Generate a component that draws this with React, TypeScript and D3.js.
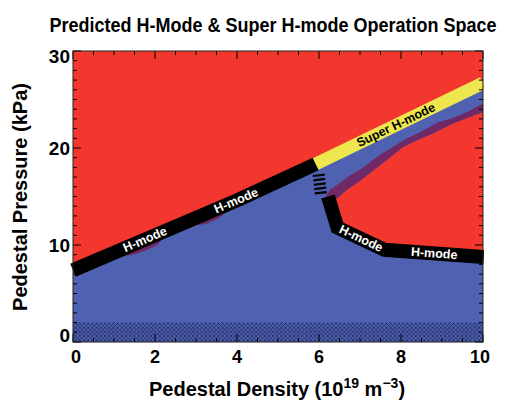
import React from 'react';
import * as d3 from 'd3';

type P = [number, number];

const W = 507;
const H = 400;
const xDomain: P = [0, 10];
const yDomain: P = [0, 30];
const xTicks = [0, 2, 4, 6, 8, 10];
const yTicks = [0, 10, 20, 30];
const xMinorStep = 0.5;
const yMinorStep = 1;

const title = 'Predicted H-Mode & Super H-mode Operation Space';
const yTitle = 'Pedestal Pressure (kPa)';

// band centerlines (density, pressure)
const hmodeLowBand: P[] = [[0, 7.4], [4, 14.6], [5.92, 18.35]];
const superHBand: P[] = [[5.92, 18.35], [10.0, 26.7]];
const hmodeDashed: P[] = [[5.99, 17.3], [6.05, 15.15]];
const hmodeHighBand: P[] = [[6.22, 15.0], [6.45, 11.8], [7.6, 9.5], [10.02, 8.75]];

// purple transition strip
const purpleUpper: P[] = [
  [6.1, 14.6], [6.27, 15.7], [6.51, 16.4], [6.76, 17.2], [7.05, 17.9], [7.49, 19.3],
  [7.8, 20.1], [8.15, 21.0], [8.46, 21.6], [8.88, 22.6], [9.27, 23.1], [9.61, 23.7], [10, 24.6],
];
const purpleLower: P[] = [
  [6.1, 14.1], [6.44, 14.8], [6.68, 15.7], [6.93, 16.4], [7.24, 17.4], [7.66, 18.8],
  [8.05, 20.1], [8.39, 20.8], [8.78, 21.5], [9.2, 22.4], [9.61, 23.1], [10, 23.7],
];
const purpleBump1: P[] = [[1.3, 8.86], [1.55, 9.06], [1.85, 9.6], [2.05, 10.01], [2.15, 10.44], [2.15, 10.95], [1.3, 9.45]];
const purpleBump2: P[] = [[3.05, 12.06], [3.25, 12.17], [3.5, 12.62], [3.7, 13.23], [3.7, 13.8], [3.05, 12.7]];

const hatchTop = 2;

const labelTexts = ['H-mode', 'H-mode', 'Super H-mode', 'H-mode', 'H-mode'];
const labelBands = ['low', 'low', 'super', 'high', 'high'];
const labelSegs = [0, 0, 0, 1, 2];
const labelTs = [0.439, 0.995, 0.48, 0.5, 0.5];

const C = {
  red: '#F3372F',
  blue: '#4F62B1',
  purple: '#6E2966',
  yellow: '#EEE64F',
  black: '#000000',
  hatch: '#1A2150',
};

const font = "'Liberation Sans', Arial, Helvetica, sans-serif";

export default function App() {
  const x = d3.scaleLinear().domain(xDomain).range([73, 483]);
  const y = d3.scaleLinear().domain(yDomain).range([342, 51]);
  const line = d3.line<P>().x((d) => x(d[0])).y((d) => y(d[1]));
  const poly = (pts: P[]) => line(pts) + 'Z';

  const bands: Record<string, P[]> = { low: hmodeLowBand, super: superHBand, high: hmodeHighBand };

  const bluePoly: P[] = [
    [0, 0], ...hmodeLowBand, ...superHBand, [10, superHBand[1][1]], [10, 0],
  ];
  const redWedge: P[] = [
    ...purpleLower,
    [10, hmodeHighBand[hmodeHighBand.length - 1][1]],
    ...hmodeHighBand.slice(0, -1).reverse(),
  ];
  const purpleStrip: P[] = [...purpleUpper, ...purpleLower.slice().reverse()];

  const x0 = x(xDomain[0]), x1 = x(xDomain[1]);
  const y0 = y(yDomain[0]), y1 = y(yDomain[1]);

  const xMinor = d3.range(xDomain[0], xDomain[1] + 1e-9, xMinorStep);
  const yMinor = d3.range(yDomain[0], yDomain[1] + 1e-9, yMinorStep);
  const majLen = 8, minLen = 4;
  const isMajX = (v: number) => xTicks.some((t) => Math.abs(t - v) < 1e-9);
  const isMajY = (v: number) => yTicks.some((t) => Math.abs(t - v) < 1e-9);

  const labels = labelTexts.map((text, i) => {
    const pts = bands[labelBands[i]];
    const a = pts[labelSegs[i]], b = pts[labelSegs[i] + 1];
    const t = labelTs[i];
    const px = x(a[0]) + (x(b[0]) - x(a[0])) * t;
    const py = y(a[1]) + (y(b[1]) - y(a[1])) * t;
    const ang = (Math.atan2(y(b[1]) - y(a[1]), x(b[0]) - x(a[0])) * 180) / Math.PI;
    return { text, px, py, ang, fill: labelBands[i] === 'super' ? '#000' : '#fff' };
  });

  return (
    <svg width={W} height={H} style={{ position: 'absolute', left: 0, top: 0 }} fontFamily={font}>
      <defs>
        <clipPath id="plotClip">
          <rect x={x0} y={y1} width={x1 - x0 + 1} height={y0 - y1} />
        </clipPath>
        <pattern id="xhatch" width={4.2} height={4.2} patternUnits="userSpaceOnUse">
          <path d="M0,0L4.2,4.2M4.2,0L0,4.2" stroke={C.hatch} strokeWidth={0.7} />
        </pattern>
      </defs>
      <rect width={W} height={H} fill="#fff" />
      <text transform="translate(273,32) scale(1,1.12)" textAnchor="middle" fontSize={18} fontWeight="bold">
        {title}
      </text>

      <g clipPath="url(#plotClip)">
        <rect x={x0} y={y1} width={x1 - x0} height={y0 - y1} fill={C.red} />
        <path d={poly(bluePoly)} fill={C.blue} />
        <path d={poly(redWedge)} fill={C.red} />
        <path d={poly(purpleStrip)} fill={C.purple} />
        <path d={poly(purpleBump1)} fill={C.purple} />
        <path d={poly(purpleBump2)} fill={C.purple} />
        <rect x={x0} y={y(hatchTop)} width={x1 - x0} height={y0 - y(hatchTop)} fill="url(#xhatch)" />
      </g>
      <path d={line(hmodeLowBand)!} stroke={C.black} strokeWidth={14} fill="none" strokeLinecap="butt" strokeLinejoin="round" />
      <g clipPath="url(#plotClip)">
        <path d={line(superHBand)!} stroke={C.yellow} strokeWidth={13} fill="none" strokeLinecap="butt" />
        <path d={line(hmodeHighBand)!} stroke={C.black} strokeWidth={14} fill="none" strokeLinecap="butt" strokeLinejoin="miter" />
      </g>
      <path d={line(hmodeDashed)!} stroke={C.black} strokeWidth={12} fill="none" strokeDasharray="2.2 2.2" />

      {labels.map((l, i) => (
        <text key={i} x={l.px} y={l.py} fill={l.fill} fontSize={12.5} fontWeight="bold" textAnchor="middle"
          dominantBaseline="central" transform={`rotate(${l.ang},${l.px},${l.py})`}>
          {l.text}
        </text>
      ))}

      {/* ticks */}
      <g stroke="#000" strokeWidth={1}>
        {xMinor.map((v, i) => {
          const L = isMajX(v) ? majLen : minLen;
          return (
            <g key={'x' + i}>
              <line x1={x(v)} x2={x(v)} y1={y0} y2={y0 - L} />
              <line x1={x(v)} x2={x(v)} y1={y1} y2={y1 + L} />
            </g>
          );
        })}
        {yMinor.map((v, i) => {
          const L = isMajY(v) ? majLen : minLen;
          return (
            <g key={'y' + i}>
              <line x1={x0} x2={x0 + L} y1={y(v)} y2={y(v)} />
              <line x1={x1} x2={x1 - L} y1={y(v)} y2={y(v)} />
            </g>
          );
        })}
      </g>
      <rect x={x0} y={y1} width={x1 - x0} height={y0 - y1} fill="none" stroke="#222" strokeWidth={1} />

      {xTicks.map((v) => (
        <text key={'xl' + v} x={Math.min(Math.max(x(v), x0 + 3), x1 - 3)} y={363} textAnchor="middle"
          fontSize={18} fontWeight="bold">
          {v}
        </text>
      ))}
      {yTicks.map((v) => (
        <text key={'yl' + v} x={70} y={Math.max(Math.min(y(v) + 7, y0), y1 + 12)} textAnchor="end"
          fontSize={19} fontWeight="bold">
          {v}
        </text>
      ))}

      <text x={277} y={396} textAnchor="middle" fontSize={20} fontWeight="bold">
        Pedestal Density (10<tspan fontSize={14} dy={-8}>19</tspan>
        <tspan dy={8}> m</tspan>
        <tspan fontSize={14} dy={-8}>−3</tspan>
        <tspan dy={8}>)</tspan>
      </text>
      <text transform={`translate(27,${(82 + 312) / 2}) rotate(-90)`} textAnchor="middle" fontSize={20}
        fontWeight="bold">
        {yTitle}
      </text>
    </svg>
  );
}
